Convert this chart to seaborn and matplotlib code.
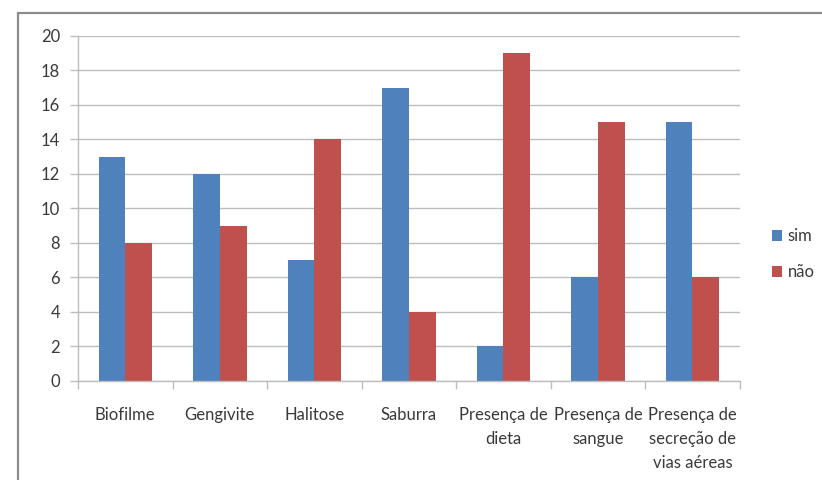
import matplotlib
matplotlib.use("Agg")
import matplotlib.pyplot as plt
from matplotlib.lines import Line2D
import seaborn as sns
import pandas as pd

categories = [
    "Biofilme",
    "Gengivite",
    "Halitose",
    "Saburra",
    "Presença de\ndieta",
    "Presença de\nsangue",
    "Presença de\nsecreção de\nvias aéreas",
]
sim = [13, 12, 7, 17, 2, 6, 15]
nao = [8, 9, 14, 4, 19, 15, 6]
series_names = ["sim", "não"]
colors = ["#4F81BD", "#C0504D"]

df = pd.DataFrame({
    "categoria": categories * 2,
    "valor": sim + nao,
    "serie": [series_names[0]] * len(sim) + [series_names[1]] * len(nao),
})

sns.set_theme(style="white")
plt.rcParams["font.family"] = ["Lato", "DejaVu Sans"]

fig = plt.figure(figsize=(8.22, 4.8), dpi=100)
ax = fig.add_axes([0.0949, 0.2063, 0.8050, 0.7187])

sns.barplot(data=df, x="categoria", y="valor", hue="serie", order=categories,
            hue_order=series_names, palette=colors, width=0.565, gap=0,
            saturation=1, linewidth=0, ax=ax, legend=True)

ax.set_ylim(0, 20)
ax.set_yticks(range(0, 21, 2))
ax.set_xlim(-0.5, len(categories) - 0.5)
ax.set_xlabel("")
ax.set_ylabel("")

grid_c = "#BDBDBD"
text_c = "#3A3A3A"
fs = 12
ax.yaxis.grid(True, color=grid_c, linewidth=1)
ax.set_axisbelow(True)
for side in ["top", "right"]:
    ax.spines[side].set_visible(False)
for side in ["left", "bottom"]:
    ax.spines[side].set_color(grid_c)
    ax.spines[side].set_linewidth(1)

# category separators on the x axis
ax.set_xticks([i - 0.5 for i in range(len(categories) + 1)], minor=True)
ax.tick_params(axis="x", which="minor", length=6, color=grid_c, width=1, bottom=True)
ax.tick_params(axis="x", which="major", length=0, pad=19, labelsize=fs,
               labelcolor=text_c, bottom=True)
ax.tick_params(axis="y", length=6, color=grid_c, width=1, labelsize=fs,
               labelcolor=text_c, pad=7, left=True)
for lbl in ax.get_xticklabels():
    lbl.set_linespacing(1.6)
    lbl.set_verticalalignment("top")

leg = ax.legend(loc="center left", bbox_to_anchor=(0.921, 0.47),
                bbox_transform=fig.transFigure, frameon=False,
                handlelength=0.6, handleheight=0.6, handletextpad=0.35,
                labelspacing=1.2, fontsize=fs)
for t in leg.get_texts():
    t.set_color(text_c)

# outer chart frame (top and left edges)
fig.add_artist(Line2D([0.0219, 1.0], [0.973, 0.973], transform=fig.transFigure,
                      color="#8C8C8C", linewidth=1.6))
fig.add_artist(Line2D([0.0219, 0.0219], [0.0, 0.973], transform=fig.transFigure,
                      color="#8C8C8C", linewidth=1.6))

fig.savefig("out.png", dpi=100)
